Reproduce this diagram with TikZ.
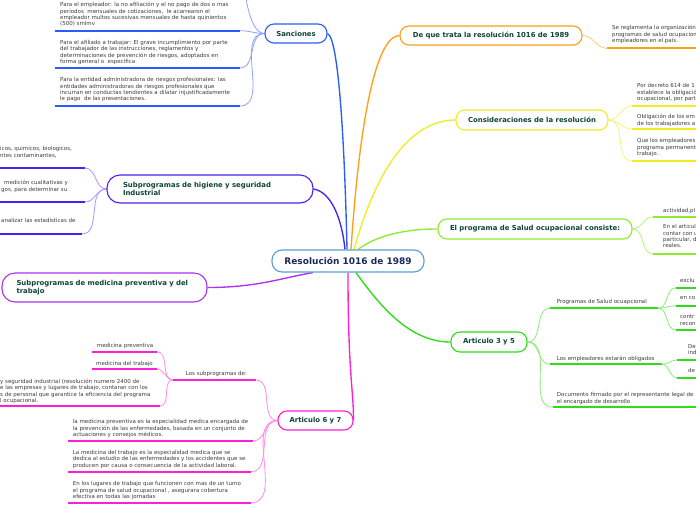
\documentclass[tikz,border=0pt]{standalone}
\usepackage{fontspec}
\setmainfont{DejaVu Sans}
\usetikzlibrary{calc}
\pgfdeclarelayer{bg}
\pgfsetlayers{bg,main}
\definecolor{cblue}{HTML}{5A9FD4}
\definecolor{navy}{HTML}{1B2A5C}
\definecolor{tgreen}{HTML}{0E4436}
\definecolor{tgray}{HTML}{3C3C3C}
\definecolor{blueT}{HTML}{2A5BFF}
\definecolor{blueL}{HTML}{8EA2FF}
\definecolor{indigoT}{HTML}{4A22EE}
\definecolor{indigoL}{HTML}{A996FF}
\definecolor{purpleT}{HTML}{B030F0}
\definecolor{magT}{HTML}{FF1FD6}
\definecolor{magL}{HTML}{FF8CEB}
\definecolor{orangeT}{HTML}{FF9F1A}
\definecolor{orangeL}{HTML}{FFC870}
\definecolor{yellowT}{HTML}{EEEE22}
\definecolor{yellowL}{HTML}{F5F57A}
\definecolor{limeT}{HTML}{8FEA30}
\definecolor{limeL}{HTML}{B9F27A}
\definecolor{greenT}{HTML}{2EDD18}
\definecolor{greenL}{HTML}{8DEB7D}
\tikzset{
 topic/.style={draw, fill=white, rounded corners=9pt, line width=1.1pt, inner sep=0pt, text=tgreen, font=\fontsize{6.9}{8.3}\selectfont\bfseries, align=center},
 txt/.style={anchor=north west, inner sep=0pt, align=left, text=tgray, font=\fontsize{5.5}{6.35}\selectfont},
 uline/.style={line width=1.7pt},
 thinc/.style={line width=0.8pt},
 trunk/.style={line width=1.35pt},
}
\begin{document}
\begin{tikzpicture}[x=1pt,y=-1pt]
\useasboundingbox (0,0) rectangle (696,520);
% topic nodes
\node[topic, draw=cblue, text=navy, font=\fontsize{9}{11}\selectfont\bfseries, rounded corners=10pt, minimum width=152pt, minimum height=22pt] (c) at (348,261) {Resolución 1016 de 1989};
\node[topic, draw=blueT, minimum width=62pt, minimum height=19pt] (san) at (296,33.5) {Sanciones};
\node[topic, draw=indigoT, align=left, text width=174pt, inner xsep=16pt, minimum width=206pt, minimum height=28pt, rounded corners=13pt, font=\fontsize{6.9}{8.4}\selectfont\bfseries] (hig) at (210,189) {Subprogramas de higiene y seguridad\\Industrial};
\node[topic, draw=purpleT, align=left, text width=176pt, inner xsep=14.5pt, minimum width=205pt, minimum height=29pt, rounded corners=13pt, font=\fontsize{6.9}{7.9}\selectfont\bfseries] (med) at (104.5,287.5) {Subprogramas de medicina preventiva y del\\trabajo};
\node[topic, draw=orangeT, minimum width=182pt, minimum height=19pt] (deq) at (491,35.5) {De que trata la resolución 1016 de 1989};
\node[topic, draw=yellowT, minimum width=152pt, minimum height=20pt] (con) at (532,120) {Consideraciones de la resolución};
\node[topic, draw=limeT, minimum width=194pt, minimum height=20pt] (elp) at (535,229) {El programa de Salud ocupacional consiste:};
\node[topic, draw=greenT, minimum width=76pt, minimum height=20pt] (a35) at (489,342) {Articulo 3 y 5};
\node[topic, draw=magT, minimum width=75pt, minimum height=19pt] (a67) at (315.5,420.5) {Articulo 6 y 7};

% text nodes
\node[txt] (s1) at (60,2.3) {Para el empleador: la no afiliación y el no pago de dos o mas\\periodos\ \ mensuales de cotizaciones,\ \ le acarrearon el\\empleador multos sucesivas mensuales de hasta quinientos\\(500) smlmv};
\node[txt] (s2) at (60,40) {Para el afiliado a trabajar: El grave incumplimiento por parte\\del trabajador de las instrucciones, reglamentos y\\determinaciones de prevención de riesgos, adoptados en\\forma general o\ \ especifica};
\node[txt] (s3) at (60,77.3) {Para la entidad administradora de riesgos profesionales: las\\entidades administradoras de riesgos profesionales que\\incurran en conductas tendientes a dilatar injustificadamente\\le pago\ \ de las presentaciones.};
\node[txt] (h1) at (0,146.3) {icos, quimicos, biologicos,\\ntes contaminantes,};
\node[txt] (h2) at (1,180.3) {\hspace*{3pt}medición cualitativas y\\gos, para determinar su};
\node[txt] (h3) at (1,218) {analizar las estadísticas de};
\node[txt] (a1) at (185.7,371.6) {Los subprogramas de:};
\node[txt] (m1) at (96.7,343.3) {medicina preventiva};
\node[txt] (m2) at (96,361.3) {medicina del trabajo};
\node[txt] (m3) at (0,379) {y seguridad industrial (resolución numero 2400 de\\e las empresas y lugares de trabajo, contaran con los\\s de personal que garantice la eficiencia del programa\\l ocupacional.};
\node[txt] (a2) at (72.7,419.6) {la medicina preventiva es la especialidad medica encargada de\\la prevención de las enfermedades, basada en un conjunto de\\actuaciones y consejos médicos.};
\node[txt] (a3) at (72.7,450) {La medicina del trabajo es la especialidad medica que se\\dedica al estudio de las enfermedades y los accidentes que se\\producen por causa o consecuencia de la actividad laboral.};
\node[txt] (a4) at (72.7,481.3) {En los lugares de trabajo que funcionen con mas de un turno\\el programa de salud ocupacional , asegurara cobertura\\efectiva en todas las jornadas};
\node[txt] (p1) at (556.7,299) {Programas de Salud ocuapcional};
\node[txt] (p2) at (556.7,356.3) {Los empleadores estarán obligados};
\node[txt] (p3) at (556.7,392.3) {Documento firmado por el representante legal de\\el encargado de desarrollo};
\node[txt] (e1) at (680,278) {exclu};
\node[txt] (e2) at (680,296.6) {en co};
\node[txt] (e3) at (680,314.6) {contr\\recon};
\node[txt] (f1) at (688,344) {De\\ind};
\node[txt] (f2) at (688,368.3) {de};
\node[txt] (g1) at (663,208.3) {actividad,pl};
\node[txt] (g2) at (663,224.3) {En el articul\\contar con u\\particular, d\\reales.};
\node[txt] (k1) at (637,83.3) {Por decreto 614 de 1\\establece la obligació\\ocupacional, por part};
\node[txt] (k2) at (637,114.3) {Obligación de los em\\de los trabajadores a};
\node[txt] (k3) at (637,138.3) {Que los empleadores\\programa permanent\\trabajo.};
\node[txt] (t1) at (612,25.3) {Se reglamenta la organización\\programas de salud ocupacion\\empleadores en el país.};

% underline coordinates
\coordinate (s0b) at (244,-8);
\coordinate (s1a) at (55,30.7); \coordinate (s1b) at (240,30.7);
\coordinate (s2a) at (55,68); \coordinate (s2b) at (240,68);
\coordinate (s3a) at (55,106); \coordinate (s3b) at (240,106);
\coordinate (h1a) at (0,168); \coordinate (h1b) at (85,168);
\coordinate (h2a) at (0,202); \coordinate (h2b) at (85,202);
\coordinate (h3a) at (0,234); \coordinate (h3b) at (82,234);
\coordinate (m1a) at (91.7,351.7); \coordinate (m1b) at (157,351.7);
\coordinate (m2a) at (91.7,369.3); \coordinate (m2b) at (157,369.3);
\coordinate (m3a) at (0,406); \coordinate (m3b) at (160,406);
\coordinate (a1a) at (173,380); \coordinate (a1b) at (256,380);
\coordinate (a2a) at (68.3,441); \coordinate (a2b) at (253,441);
\coordinate (a3a) at (68.3,471.7); \coordinate (a3b) at (251,471.7);
\coordinate (a4a) at (68.3,502.7); \coordinate (a4b) at (251,502.7);
\coordinate (p1a) at (550,308.3); \coordinate (p1b) at (658,308.3);
\coordinate (p2a) at (550,364.3); \coordinate (p2b) at (661.7,364.3);
\coordinate (p3a) at (553,407.3); \coordinate (p3b) at (696,407.3);
\coordinate (e1a) at (676,287.7); \coordinate (e1b) at (696,287.7);
\coordinate (e2a) at (676,305.7); \coordinate (e2b) at (696,305.7);
\coordinate (e3a) at (676,330); \coordinate (e3b) at (696,330);
\coordinate (f1a) at (677,360); \coordinate (f1b) at (696,360);
\coordinate (f2a) at (677,377.7); \coordinate (f2b) at (696,377.7);
\coordinate (g1a) at (653,216.7); \coordinate (g1b) at (696,216.7);
\coordinate (g2a) at (653,254); \coordinate (g2b) at (696,254);
\coordinate (k1a) at (632,105.7); \coordinate (k1b) at (696,105.7);
\coordinate (k2a) at (632,129); \coordinate (k2b) at (696,129);
\coordinate (k3a) at (632,161); \coordinate (k3b) at (696,161);
\coordinate (t1a) at (607,48.3); \coordinate (t1b) at (696,48.3);

\begin{pgfonlayer}{bg}
\fill[white] (0,0) rectangle (696,520);
% trunks
\draw[trunk, blueT] (san.east) .. controls +(12,5) and +(-2,-90) .. ($(c.north)+(-1,0)$);
\draw[trunk, indigoT] (hig.east) .. controls +(18,3) and +(-3,-30) .. ($(c.north)+(-3,0)$);
\draw[trunk, orangeT] ($(c.north)+(3,0)$) .. controls +(10,-150) and +(-20,0) .. (deq.west);
\draw[trunk, yellowT] ($(c.north)+(6,0)$) .. controls +(25,-90) and +(-40,0) .. (con.west);
\draw[trunk, limeT] ($(c.north)+(10,0)$) .. controls +(20,-15) and +(-30,0) .. (elp.west);
\draw[trunk, greenT] ($(c.south)+(8,0)$) .. controls +(25,35) and +(-40,0) .. (a35.west);
\draw[trunk, magT] (c.south) .. controls +(0,100) and +(0,-30) .. (a67.east);
\draw[trunk, purpleT] (med.east) .. controls +(50,0) and +(-30,5) .. ($(c.south)+(-35,0)$);
% thin connectors
\draw[thinc, blueL] (san.west) to[out=180,in=90] (s0b);
\draw[thinc, blueL] (san.west) to[out=180,in=0] (s1b);
\draw[thinc, blueL] (san.west) to[out=180,in=0] (s2b);
\draw[thinc, blueL] (san.west) to[out=180,in=0] (s3b);
\draw[thinc, indigoL] (hig.west) to[out=180,in=0] (h1b);
\draw[thinc, indigoL] (hig.west) to[out=180,in=0] (h2b);
\draw[thinc, indigoL] (hig.west) to[out=180,in=0] (h3b);
\draw[thinc, magL] (a67.west) to[out=180,in=0] (a1b);
\draw[thinc, magL] (a67.west) to[out=180,in=0] (a2b);
\draw[thinc, magL] (a67.west) to[out=180,in=0] (a3b);
\draw[thinc, magL] (a67.west) to[out=180,in=0] (a4b);
\draw[thinc, magL] (a1a) to[out=180,in=0] (m1b);
\draw[thinc, magL] (a1a) to[out=180,in=0] (m2b);
\draw[thinc, magL] (a1a) to[out=180,in=0] (m3b);
\draw[thinc, greenL] (a35.east) to[out=0,in=180] (p1a);
\draw[thinc, greenL] (a35.east) to[out=0,in=180] (p2a);
\draw[thinc, greenL] (a35.east) to[out=0,in=180] (p3a);
\draw[thinc, greenL] (p1b) to[out=0,in=180] (e1a);
\draw[thinc, greenL] (p1b) to[out=0,in=180] (e2a);
\draw[thinc, greenL] (p1b) to[out=0,in=180] (e3a);
\draw[thinc, greenL] (p2b) to[out=0,in=180] (f1a);
\draw[thinc, greenL] (p2b) to[out=0,in=180] (f2a);
\draw[thinc, limeL] (elp.east) to[out=0,in=180] (g1a);
\draw[thinc, limeL] (elp.east) to[out=0,in=180] (g2a);
\draw[thinc, yellowL] (con.east) to[out=0,in=180] (k1a);
\draw[thinc, yellowL] (con.east) to[out=0,in=180] (k2a);
\draw[thinc, yellowL] (con.east) to[out=0,in=180] (k3a);
\draw[thinc, orangeL] (deq.east) to[out=0,in=180] (t1a);
% underlines
\draw[uline, blueT] (s1a) -- (s1b); \draw[uline, blueT] (s2a) -- (s2b); \draw[uline, blueT] (s3a) -- (s3b);
\draw[uline, indigoT] (h1a) -- (h1b); \draw[uline, indigoT] (h2a) -- (h2b); \draw[uline, indigoT] (h3a) -- (h3b);
\draw[uline, magT] (m1a) -- (m1b); \draw[uline, magT] (m2a) -- (m2b); \draw[uline, magT] (m3a) -- (m3b);
\draw[uline, magT] (a1a) -- (a1b); \draw[uline, magT] (a2a) -- (a2b); \draw[uline, magT] (a3a) -- (a3b); \draw[uline, magT] (a4a) -- (a4b);
\draw[uline, greenT] (p1a) -- (p1b); \draw[uline, greenT] (p2a) -- (p2b); \draw[uline, greenT] (p3a) -- (p3b);
\draw[uline, greenT] (e1a) -- (e1b); \draw[uline, greenT] (e2a) -- (e2b); \draw[uline, greenT] (e3a) -- (e3b);
\draw[uline, greenT] (f1a) -- (f1b); \draw[uline, greenT] (f2a) -- (f2b);
\draw[uline, limeT] (g1a) -- (g1b); \draw[uline, limeT] (g2a) -- (g2b);
\draw[uline, yellowT] (k1a) -- (k1b); \draw[uline, yellowT] (k2a) -- (k2b); \draw[uline, yellowT] (k3a) -- (k3b);
\draw[uline, orangeT] (t1a) -- (t1b);
\end{pgfonlayer}
\end{tikzpicture}
\end{document}
